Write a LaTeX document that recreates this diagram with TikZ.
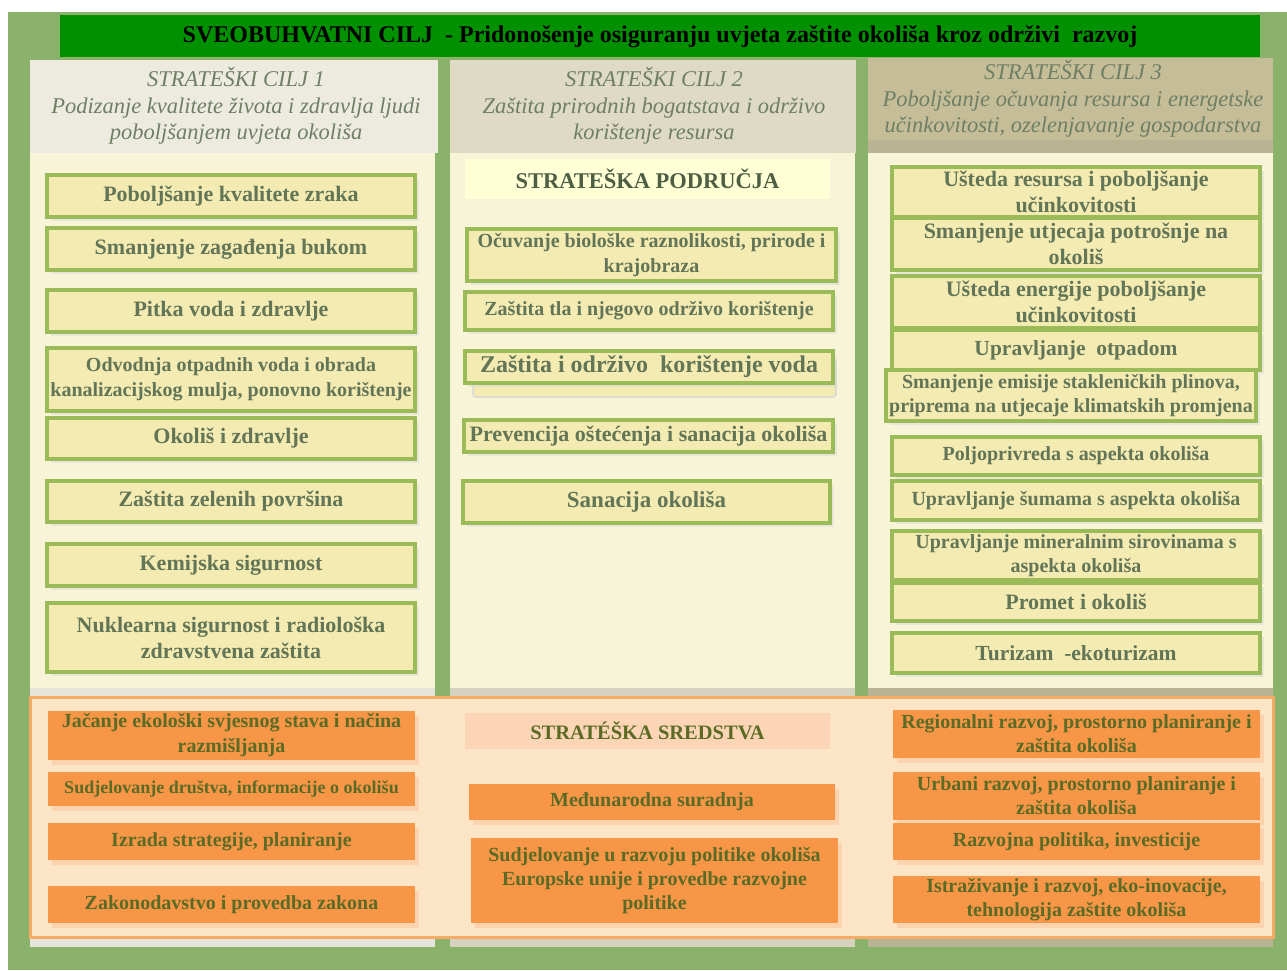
\documentclass[tikz,border=0pt]{standalone}
\usepackage{fontspec}
\setmainfont{Liberation Serif}
\usepackage{xcolor}
\usepackage{tikz}
\usetikzlibrary{shadows}

\definecolor{pozadina}{HTML}{8AB26A}
\definecolor{traka}{HTML}{009000}
\definecolor{zaglavlje1}{HTML}{EDEBE0}
\definecolor{zaglavlje2}{HTML}{DEDAC3}
\definecolor{zaglavlje3}{HTML}{C4BD97}
\definecolor{rub3}{HTML}{B8B393}
\definecolor{sivo1}{HTML}{E7E4D9}
\definecolor{sivo2}{HTML}{D5D2C0}
\definecolor{krem}{HTML}{F8F4D8}
\definecolor{kutija}{HTML}{F4EBB2}
\definecolor{okvir}{HTML}{9BBB59}
\definecolor{tekst}{HTML}{627556}
\definecolor{naslovtekst}{HTML}{6F7F65}
\definecolor{naranca}{HTML}{F79646}
\definecolor{polje}{HTML}{FBE5C6}
\definecolor{rubpolja}{HTML}{F7AB66}
\definecolor{breskva}{HTML}{FBD5B5}
\definecolor{maslina}{HTML}{5B6B25}
\definecolor{svijetla}{HTML}{FFFFD5}

\newcommand{\fsz}[2]{\fontsize{#1}{#2}\selectfont}

\begin{document}
\begin{tikzpicture}[x=1pt, y=-1pt,
    podrucje/.style={draw=okvir, line width=3.5pt, fill=kutija, text=tekst, font=\bfseries, align=center, inner xsep=1pt, inner ysep=0pt, minimum width=368pt, drop shadow={shadow xshift=4pt, shadow yshift=-4pt, fill=black!15, rounded corners=2pt}},
    sredstvo/.style={fill=naranca, text=maslina, font=\bfseries, align=center, inner xsep=1pt, inner ysep=0pt, minimum width=367pt, drop shadow={shadow xshift=4pt, shadow yshift=-5pt, fill=naranca!55, rounded corners=3pt}},
    cilj/.style={text=naslovtekst, font=\itshape\fsz{22.5}{26.5}, align=center}]
    \useasboundingbox (0,0) rectangle (1287,970);
    \fill[white] (0,0) rectangle (1287,970);
    \fill[pozadina] (8,12) rectangle (1287,970);
    % gornja traka
    \fill[traka] (60,15) rectangle (1260,57);
    \node[font=\bfseries\fsz{24}{26}] (sveobuhvatni) at (660,37) {SVEOBUHVATNI CILJ\ \ - Pridonošenje osiguranju uvjeta zaštite okoliša kroz održivi\ \ razvoj};
    % stupci
    \fill[sivo1] (30,153) rectangle (435,947);
    \fill[zaglavlje1] (30,60) rectangle (438,153);
    \fill[krem] (30,153) rectangle (435,688);
    \fill[sivo2] (450,153) rectangle (855,947);
    \fill[zaglavlje2] (450,60) rectangle (856,153);
    \fill[krem] (450,153) rectangle (855,688);
    \fill[rub3] (868,140) rectangle (1273,947);
    \fill[zaglavlje3] (868,58) rectangle (1273,140);
    \fill[krem] (868,153) rectangle (1273,688);
    \node[cilj] (cilj1) at (236,106) {STRATEŠKI CILJ 1\\Podizanje kvalitete života i zdravlja ljudi\\poboljšanjem uvjeta okoliša};
    \node[cilj] (cilj2) at (654,106) {STRATEŠKI CILJ 2\\Zaštita prirodnih bogatstava i održivo\\korištenje resursa};
    \node[cilj] (cilj3) at (1073,99) {STRATEŠKI CILJ 3\\Poboljšanje očuvanja resursa i energetske\\učinkovitosti, ozelenjavanje gospodarstva};
    % strateski cilj 1
    \node[podrucje, minimum height=42pt, font=\bfseries\fsz{22}{25}] (zrak) at (231,196) {Poboljšanje kvalitete zraka};
    \node[podrucje, minimum height=42pt, font=\bfseries\fsz{22}{25}] (buka) at (231,249) {Smanjenje zagađenja bukom};
    \node[podrucje, minimum height=42pt, font=\bfseries\fsz{22}{25}] (pitka) at (231,311) {Pitka voda i zdravlje};
    \node[podrucje, minimum height=63pt, font=\bfseries\fsz{20}{25}] (odvodnja) at (231,379.5) {Odvodnja otpadnih voda i obrada\\kanalizacijskog mulja, ponovno korištenje};
    \node[podrucje, minimum height=41pt, font=\bfseries\fsz{22}{25}] (zdravlje) at (231,438.5) {Okoliš i zdravlje};
    \node[podrucje, minimum height=41pt, font=\bfseries\fsz{22}{25}] (zelene) at (231,501.5) {Zaštita zelenih površina};
    \node[podrucje, minimum height=42pt, font=\bfseries\fsz{22}{25}] (kemijska) at (231,565) {Kemijska sigurnost};
    \node[podrucje, minimum height=69pt, font=\bfseries\fsz{22}{26}] (nuklearna) at (231,637.5) {Nuklearna sigurnost i radiološka\\zdravstvena zaštita};
    % strateski cilj 2
    \node[fill=svijetla, text=tekst!80!black, font=\bfseries\fsz{22.5}{24}, minimum width=365pt, minimum height=40pt] (podrucja) at (647.5,179) {STRATEŠKA PODRUČJA};
    \node[podrucje, minimum width=369pt, minimum height=52pt, font=\bfseries\fsz{20}{25}] (bioloska) at (651.5,255) {Očuvanje biološke raznolikosti, prirode i\\krajobraza};
    \node[podrucje, minimum height=38pt, font=\bfseries\fsz{20}{24}] (tlo) at (649,311) {Zaštita tla i njegovo održivo korištenje};
    \fill[kutija, draw=black!15, line width=1.5pt, rounded corners=3pt] (473,360) rectangle (836,397);
    \node[podrucje, minimum height=32pt, font=\bfseries\fsz{24}{26}] (voda) at (649,367) {Zaštita i održivo\ \ korištenje voda};
    \node[podrucje, minimum width=369pt, minimum height=32pt, font=\bfseries\fsz{22}{24}] (prevencija) at (648.5,436) {Prevencija oštećenja i sanacija okoliša};
    \node[podrucje, minimum width=367pt, minimum height=42pt, font=\bfseries\fsz{23}{25}] (sanacija) at (646.5,502) {Sanacija okoliša};
    % strateski cilj 3
    \node[podrucje, minimum height=50pt, font=\bfseries\fsz{22}{26}] (resursi) at (1076,192) {Ušteda resursa i poboljšanje\\učinkovitosti};
    \node[podrucje, minimum height=52pt, font=\bfseries\fsz{22}{26}] (potrosnja) at (1076,244) {Smanjenje utjecaja potrošnje na\\okoliš};
    \node[podrucje, minimum height=52pt, font=\bfseries\fsz{22}{26}] (energija) at (1076,302) {Ušteda energije poboljšanje\\učinkovitosti};
    \node[podrucje, minimum height=40pt, font=\bfseries\fsz{21.5}{25}] (otpad) at (1076,350) {Upravljanje\ \ otpadom};
    \node[podrucje, minimum width=370pt, minimum height=51pt, font=\bfseries\fsz{20}{24}] (klima) at (1071,395.5) {Smanjenje emisije stakleničkih plinova,\\priprema na utjecaje klimatskih promjena};
    \node[podrucje, minimum height=38pt, font=\bfseries\fsz{20}{24}] (poljo) at (1076,456) {Poljoprivreda s aspekta okoliša};
    \node[podrucje, minimum height=39pt, font=\bfseries\fsz{20}{24}] (sume) at (1076,500.5) {Upravljanje šumama s aspekta okoliša};
    \node[podrucje, minimum height=49pt, font=\bfseries\fsz{20}{24}] (mineral) at (1076,555.5) {Upravljanje mineralnim sirovinama s\\aspekta okoliša};
    \node[podrucje, minimum height=38pt, font=\bfseries\fsz{22}{25}] (promet) at (1076,602) {Promet i okoliš};
    \node[podrucje, minimum height=40pt, font=\bfseries\fsz{21.5}{25}] (turizam) at (1076,653) {Turizam\ \ -ekoturizam};
    % strateska sredstva
    \fill[polje, draw=rubpolja, line width=3pt] (30,697) rectangle (1273,937);
    \node[fill=breskva, text=maslina, font=\bfseries\fsz{20.5}{24}, minimum width=365pt, minimum height=36pt] (sredstva) at (647.5,731) {STRATÉŠKA SREDSTVA};
    \node[sredstvo, minimum height=49pt, font=\bfseries\fsz{20}{25}] (svijest) at (231.5,735.5) {Jačanje ekološki svjesnog stava i načina\\razmišljanja};
    \node[sredstvo, minimum height=34pt, font=\bfseries\fsz{18}{22}] (drustvo) at (231.5,789) {Sudjelovanje društva, informacije o okolišu};
    \node[sredstvo, minimum height=37pt, font=\bfseries\fsz{20}{24}] (izrada) at (231.5,841.5) {Izrada strategije, planiranje};
    \node[sredstvo, minimum height=37pt, font=\bfseries\fsz{20}{24}] (zakon) at (231.5,904.5) {Zakonodavstvo i provedba zakona};
    \node[sredstvo, minimum width=366pt, minimum height=36pt, font=\bfseries\fsz{20}{24}] (suradnja) at (652,802) {Međunarodna suradnja};
    \node[sredstvo, minimum height=85pt, font=\bfseries\fsz{20}{24}] (eu) at (654.5,880.5) {Sudjelovanje u razvoju politike okoliša\\Europske unije i provedbe razvojne\\politike};
    \node[sredstvo, minimum height=48pt, font=\bfseries\fsz{20}{24}] (regionalni) at (1076.5,734) {Regionalni razvoj, prostorno planiranje i\\zaštita okoliša};
    \node[sredstvo, minimum height=48pt, font=\bfseries\fsz{20}{24}] (urbani) at (1076.5,796) {Urbani razvoj, prostorno planiranje i\\zaštita okoliša};
    \node[sredstvo, minimum height=37pt, font=\bfseries\fsz{20}{24}] (investicije) at (1076.5,841.5) {Razvojna politika, investicije};
    \node[sredstvo, minimum height=47pt, font=\bfseries\fsz{20}{24}] (istrazivanje) at (1076.5,899.5) {Istraživanje i razvoj, eko-inovacije,\\tehnologija zaštite okoliša};
\end{tikzpicture}
\end{document}
